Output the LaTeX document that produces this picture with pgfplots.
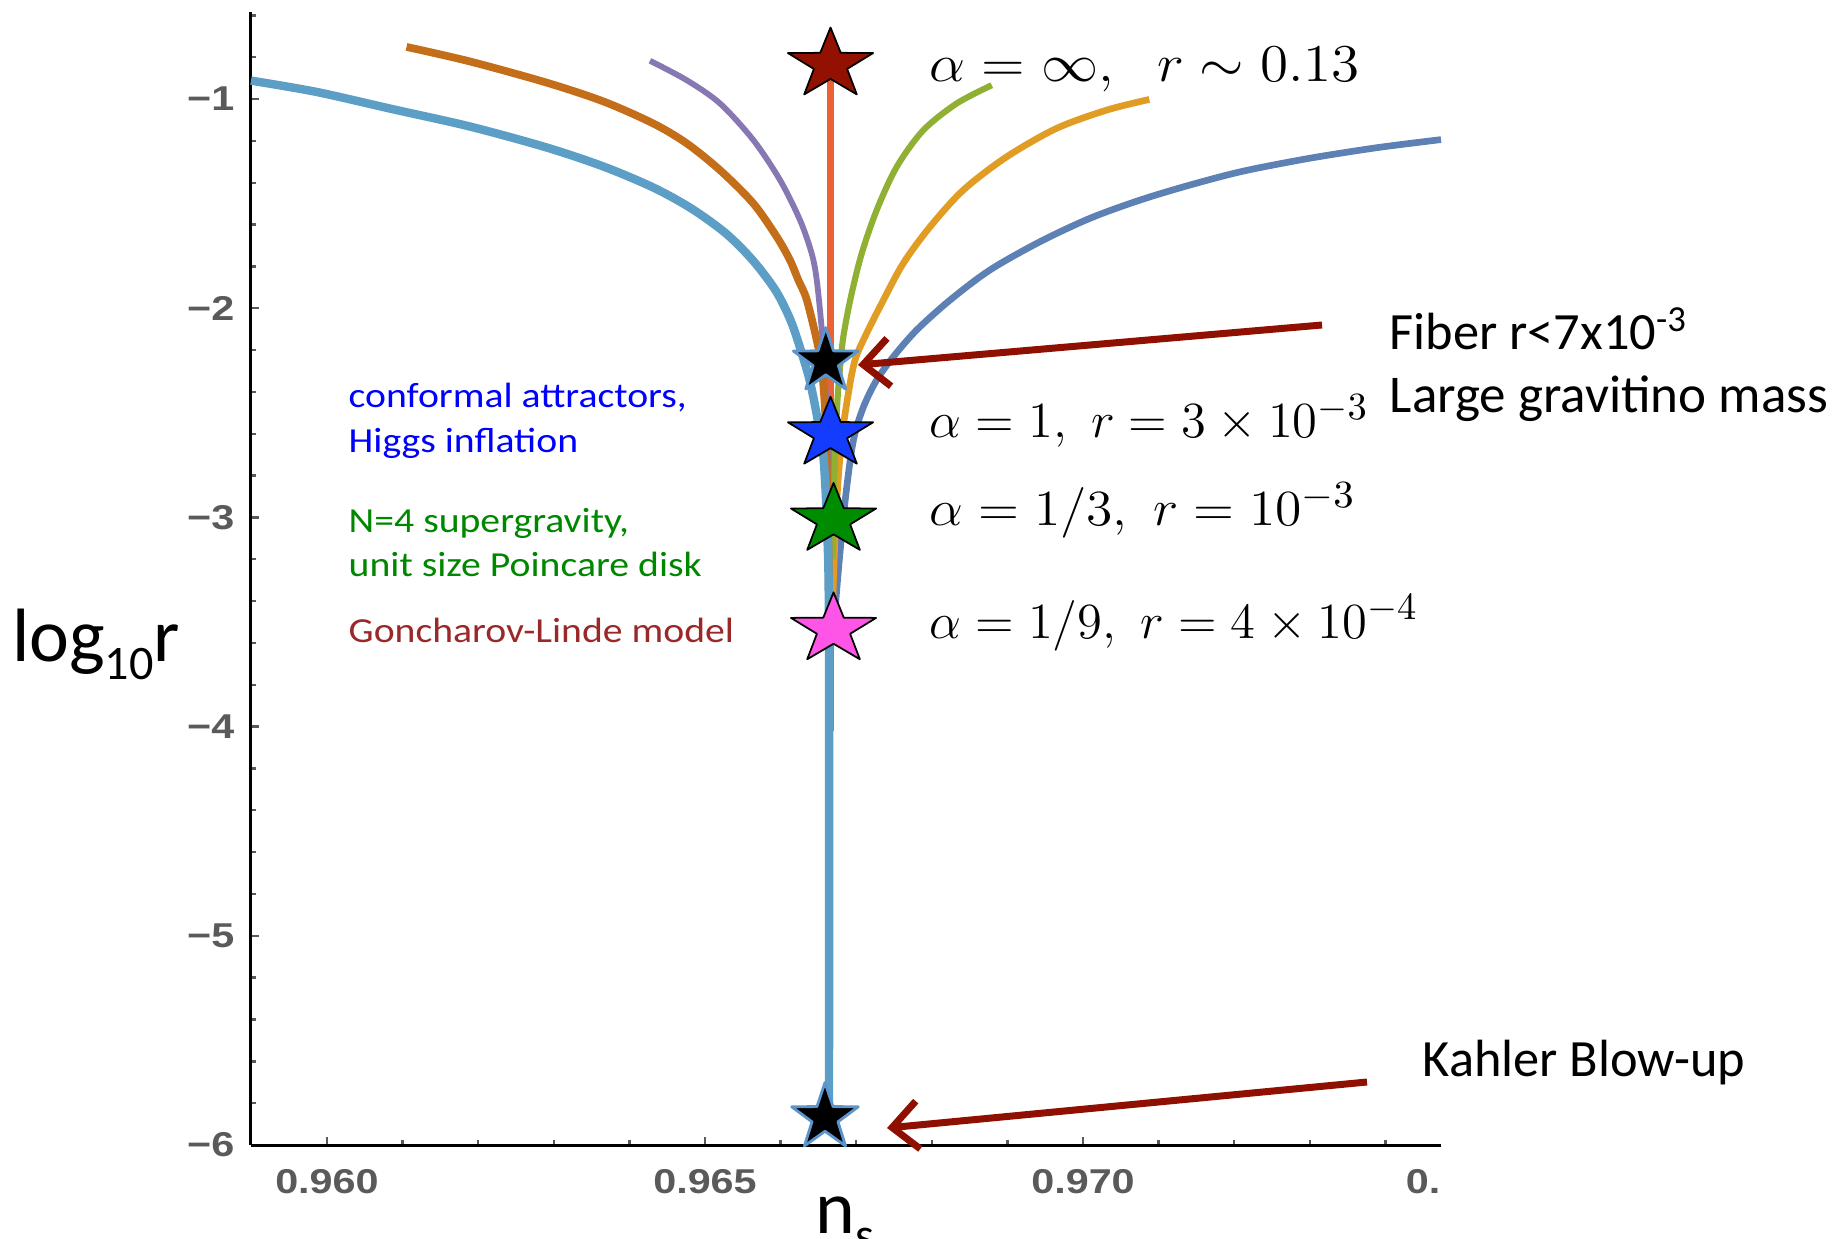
\documentclass[border=0pt]{standalone}
\usepackage{fontspec}
\usepackage{graphicx}
\usepackage{pgfplots}
\pgfplotsset{compat=1.18}
\usetikzlibrary{arrows.meta}
\newfontfamily\calfont{Carlito}
\newfontfamily\tickfont{Liberation Sans}[FakeStretch=1.2]
\definecolor{c1}{RGB}{94,129,181}
\definecolor{c2}{RGB}{225,156,36}
\definecolor{c3}{RGB}{143,176,50}
\definecolor{c4}{RGB}{235,98,53}
\definecolor{c5}{RGB}{135,120,179}
\definecolor{c6}{RGB}{197,110,26}
\definecolor{c7}{RGB}{93,158,199}
\definecolor{tickgray}{RGB}{90,90,90}
\definecolor{arrowred}{RGB}{143,16,0}
\definecolor{starred}{RGB}{146,17,0}
\definecolor{starblue}{RGB}{20,60,255}
\definecolor{stargreen}{RGB}{0,140,0}
\definecolor{starmag}{RGB}{255,85,230}
\definecolor{staredge}{RGB}{90,150,205}
\definecolor{txtblue}{RGB}{0,0,255}
\definecolor{txtgreen}{RGB}{0,135,0}
\definecolor{txtred}{RGB}{155,40,40}
\pgfdeclareplotmark{fstar}{%
  \pgftransformxscale{1.21}%
  \pgfpathmoveto{\pgfpointpolar{90}{\pgfplotmarksize}}%
  \pgfpathlineto{\pgfpointpolar{126}{0.39\pgfplotmarksize}}%
  \pgfpathlineto{\pgfpointpolar{162}{\pgfplotmarksize}}%
  \pgfpathlineto{\pgfpointpolar{198}{0.39\pgfplotmarksize}}%
  \pgfpathlineto{\pgfpointpolar{234}{\pgfplotmarksize}}%
  \pgfpathlineto{\pgfpointpolar{270}{0.39\pgfplotmarksize}}%
  \pgfpathlineto{\pgfpointpolar{306}{\pgfplotmarksize}}%
  \pgfpathlineto{\pgfpointpolar{342}{0.39\pgfplotmarksize}}%
  \pgfpathlineto{\pgfpointpolar{18}{\pgfplotmarksize}}%
  \pgfpathlineto{\pgfpointpolar{54}{0.39\pgfplotmarksize}}%
  \pgfpathclose
  \pgfusepathqfillstroke
}
\pgfdeclareplotmark{fstarn}{%
  \pgfpathmoveto{\pgfpointpolar{90}{\pgfplotmarksize}}%
  \pgfpathlineto{\pgfpointpolar{126}{0.39\pgfplotmarksize}}%
  \pgfpathlineto{\pgfpointpolar{162}{\pgfplotmarksize}}%
  \pgfpathlineto{\pgfpointpolar{198}{0.39\pgfplotmarksize}}%
  \pgfpathlineto{\pgfpointpolar{234}{\pgfplotmarksize}}%
  \pgfpathlineto{\pgfpointpolar{270}{0.39\pgfplotmarksize}}%
  \pgfpathlineto{\pgfpointpolar{306}{\pgfplotmarksize}}%
  \pgfpathlineto{\pgfpointpolar{342}{0.39\pgfplotmarksize}}%
  \pgfpathlineto{\pgfpointpolar{18}{\pgfplotmarksize}}%
  \pgfpathlineto{\pgfpointpolar{54}{0.39\pgfplotmarksize}}%
  \pgfpathclose
  \pgfusepathqfillstroke
}
\begin{document}
\begin{tikzpicture}
\path[use as bounding box] (-25.1mm,-9.3mm) rectangle (158.6mm,114.5mm);
\begin{axis}[
  at={(0,0)}, anchor=south west, scale only axis,
  width=119.0mm, height=113.3mm,
  xmin=0.958995, xmax=0.974735, ymin=-6, ymax=-0.584,
  axis lines*=left,
  axis line style={-, black, line width=0.3mm},
  every outer x axis line/.append style={-},
  every outer y axis line/.append style={-},
  tick align=inside,
  major tick length=0.8mm, minor tick length=0.5mm,
  every tick/.style={tickgray, line width=0.24mm},
  xtick={0.960,0.965,0.970}, xticklabels={0.960,0.965,0.970},
  minor xtick={0.961,0.962,0.963,0.964,0.966,0.967,0.968,0.969,0.971,0.972,0.973,0.974},
  ytick={-6,-5,-4,-3,-2,-1}, yticklabels={−6,−5,−4,−3,−2,−1},
  minor ytick={-5.8,-5.6,-5.4,-5.2,-4.8,-4.6,-4.4,-4.2,-3.8,-3.6,-3.4,-3.2,-2.8,-2.6,-2.4,-2.2,-1.8,-1.6,-1.4,-1.2,-0.8,-0.6},
  tick label style={font=\tickfont\bfseries\fontsize{9.8}{11}\selectfont, text=tickgray, inner sep=0pt},
  xticklabel style={anchor=north, yshift=-2.4mm},
  yticklabel style={anchor=east, xshift=-1.6mm},
  clip=false,
  line join=round,
  every axis plot/.append style={smooth, tension=0.5},
]
% red vertical (alpha = infinity limit line)
\addplot[c4, line width=1.9pt, sharp plot] coordinates {(0.96666,-0.86) (0.96666,-4.02)};
% blue
\addplot[c1, line width=1.9pt] coordinates {
(0.974735,-1.194) (0.973900,-1.232) (0.973000,-1.283) (0.972116,-1.345)
(0.971415,-1.411) (0.970754,-1.483) (0.970093,-1.570) (0.969431,-1.682)
(0.968770,-1.817) (0.968241,-1.961) (0.967800,-2.104) (0.967491,-2.232)
(0.967271,-2.343) (0.967116,-2.454) (0.967007,-2.566) (0.966940,-2.678)
(0.966860,-2.900) (0.966790,-3.150) (0.966730,-3.400) (0.966690,-3.600)};
% orange
\addplot[c2, line width=1.9pt] coordinates {
(0.970877,-1.002) (0.970313,-1.053) (0.969652,-1.140) (0.968991,-1.276)
(0.968417,-1.435) (0.967976,-1.611) (0.967623,-1.785) (0.967337,-1.977)
(0.967116,-2.136) (0.966984,-2.248) (0.966896,-2.407) (0.966800,-2.650)
(0.966730,-3.000) (0.966690,-3.400)};
% green
\addplot[c3, line width=1.75pt] coordinates {
(0.968793,-0.934) (0.968330,-1.021) (0.967888,-1.149) (0.967536,-1.324)
(0.967271,-1.531) (0.967073,-1.738) (0.966940,-1.929) (0.966852,-2.088)
(0.966808,-2.200) (0.966750,-2.450) (0.966710,-2.800) (0.966690,-3.200)};
% purple
\addplot[c5, line width=1.65pt] coordinates {
(0.964272,-0.817) (0.964758,-0.910) (0.965198,-1.021) (0.965639,-1.196)
(0.965992,-1.387) (0.966257,-1.579) (0.966411,-1.738) (0.966478,-1.865)
(0.966544,-2.100) (0.966580,-2.300) (0.966620,-2.580) (0.966640,-3.010)
(0.966650,-3.300)};
% brown
\addplot[c6, line width=2.2pt] coordinates {
(0.961052,-0.751) (0.961886,-0.820) (0.962899,-0.921) (0.963659,-1.012)
(0.964316,-1.117) (0.964758,-1.212) (0.965198,-1.340) (0.965639,-1.499)
(0.965948,-1.658) (0.966124,-1.770) (0.966234,-1.865) (0.966341,-1.954)
(0.966468,-2.137) (0.966544,-2.283) (0.966594,-2.534) (0.966620,-2.920)
(0.966640,-3.390)};
% light blue
\addplot[c7, line width=2.4pt] coordinates {
(0.958995,-0.912) (0.959860,-0.966) (0.960874,-1.049) (0.961886,-1.131)
(0.962899,-1.231) (0.963659,-1.323) (0.964316,-1.423) (0.964823,-1.524)
(0.965278,-1.643) (0.965632,-1.771) (0.965937,-1.917) (0.966139,-2.064)
(0.966291,-2.228) (0.966392,-2.356) (0.966493,-2.539) (0.966569,-2.721)
(0.966619,-3.087) (0.966640,-3.600) (0.966640,-5.860)};
% stars
\addplot[only marks, mark=fstar, mark size=3.7mm, mark options={fill=starred, draw=black, line width=0.5pt}] coordinates {(0.96666,-0.835)};
\addplot[only marks, mark=fstarn, mark size=3.4mm, mark options={fill=black, draw=staredge, line width=0.8pt}] coordinates {(0.966597,-2.255)};
\addplot[only marks, mark=fstar, mark size=3.7mm, mark options={fill=starblue, draw=black, line width=0.5pt}] coordinates {(0.96666,-2.600)};
\addplot[only marks, mark=fstar, mark size=3.7mm, mark options={fill=stargreen, draw=black, line width=0.5pt}] coordinates {(0.96670,-3.012)};
\addplot[only marks, mark=fstar, mark size=3.7mm, mark options={fill=starmag, draw=black, line width=0.5pt}] coordinates {(0.96670,-3.535)};
\addplot[only marks, mark=fstarn, mark size=3.5mm, mark options={fill=black, draw=staredge, line width=0.8pt}] coordinates {(0.966587,-5.869)};
\end{axis}
% clipped last tick label
\node[anchor=north east, inner sep=0pt, font=\tickfont\bfseries\fontsize{9.8}{11}\selectfont, text=tickgray] at (119.0mm,-2.4mm) {0.};
% axis labels
\node[anchor=base west, inner sep=0pt, font=\calfont\fontsize{21.5}{24}\selectfont] at (-23.95mm,48.4mm) {log\raisebox{-1.8mm}{\fontsize{13.7}{14}\selectfont 10}r};
\node[anchor=base west, inner sep=0pt, font=\calfont\fontsize{21.5}{24}\selectfont] at (56.4mm,-8.8mm) {n\raisebox{-1.8mm}{\fontsize{13.7}{14}\selectfont s}};
% colored model labels
\node[anchor=base west, inner sep=0pt, text=txtblue, font=\calfont\fontsize{10}{12}\selectfont] at (9.7mm,73.7mm) {\scalebox{1.13}[1]{conformal attractors,}};
\node[anchor=base west, inner sep=0pt, text=txtblue, font=\calfont\fontsize{10}{12}\selectfont] at (9.7mm,69.3mm) {\scalebox{1.13}[1]{Higgs inflation}};
\node[anchor=base west, inner sep=0pt, text=txtgreen, font=\calfont\fontsize{10}{12}\selectfont] at (9.7mm,61.3mm) {\scalebox{1.13}[1]{N=4 supergravity,}};
\node[anchor=base west, inner sep=0pt, text=txtgreen, font=\calfont\fontsize{10}{12}\selectfont] at (9.7mm,56.9mm) {\scalebox{1.13}[1]{unit size Poincare disk}};
\node[anchor=base west, inner sep=0pt, text=txtred, font=\calfont\fontsize{10}{12}\selectfont] at (9.7mm,50.3mm) {\scalebox{1.13}[1]{Goncharov-Linde model}};
% math labels
\node[anchor=base west, inner sep=0pt, font=\fontsize{15}{18}\selectfont] at (67.8mm,106.3mm) {\scalebox{1.13}[1.05]{$\alpha=\infty,\ \; r\sim0.13$}};
\node[anchor=base west, inner sep=0pt, font=\fontsize{15}{18}\selectfont] at (67.8mm,70.7mm) {$\alpha=1,\ r=3\times10^{-3}$};
\node[anchor=base west, inner sep=0pt, font=\fontsize{15}{18}\selectfont] at (67.8mm,61.9mm) {\scalebox{1.06}[1]{$\alpha=1/3,\ r=10^{-3}$}};
\node[anchor=base west, inner sep=0pt, font=\fontsize{15}{18}\selectfont] at (67.8mm,50.7mm) {$\alpha=1/9,\ r=4\times10^{-4}$};
% black annotations
\node[anchor=base west, inner sep=0pt, font=\calfont\fontsize{14.9}{17}\selectfont] at (113.8mm,79.5mm) {Fiber r<7x10\textsuperscript{-3}};
\node[anchor=base west, inner sep=0pt, font=\calfont\fontsize{15.1}{17}\selectfont] at (113.8mm,73.2mm) {Large gravitino mass};
\node[anchor=base west, inner sep=0pt, font=\calfont\fontsize{14.9}{17}\selectfont] at (117.1mm,6.85mm) {Kahler Blow-up};
% arrows
\draw[arrowred, line width=0.7mm, -{Straight Barb[length=2.6mm,width=4.8mm]}] (107.1mm,82.0mm) -- (60.7mm,78.0mm);
\draw[arrowred, line width=0.7mm, -{Straight Barb[length=2.6mm,width=4.8mm]}] (111.6mm,6.3mm) -- (63.6mm,1.7mm);
\end{tikzpicture}
\end{document}
